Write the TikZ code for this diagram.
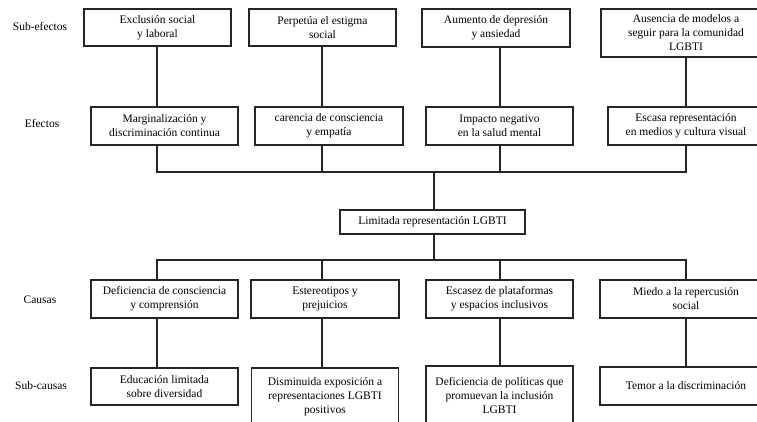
\documentclass[tikz,border=0pt]{standalone}
\usepackage{fontspec}
\setmainfont{Liberation Serif}
\begin{document}
\begin{tikzpicture}[x=1pt,y=-1pt,
  box/.style={draw=black!85,line width=1.2pt,fill=white,inner sep=0pt,align=center,
    font=\fontsize{11.5}{14}\selectfont},
  lvl/.style={inner sep=0pt,font=\fontsize{11.5}{14}\selectfont},
  conn/.style={draw=black!85,line width=1.2pt}]
\useasboundingbox (0,0) rectangle (757,421);
\clip (0,0) rectangle (757,421);
\fill[white] (0,0) rectangle (757,421);
% column line positions
\coordinate (k1) at (157,0);
\coordinate (k2) at (322,0);
\coordinate (k3) at (500,0);
\coordinate (k4) at (686,0);
\coordinate (ta) at (434,172);
\coordinate (tb) at (434,260);
% level labels
\node[lvl] (lse) at (40,27) {Sub-efectos};
\node[lvl] (lef) at (42,124) {Efectos};
\node[lvl] (lca) at (40,300) {Causas};
\node[lvl] (lsc) at (41,386) {Sub-causas};
% sub-effects
\node[box,minimum width=147,minimum height=37] (se1) at (157.5,27.5) {Exclusión social\\y laboral};
\node[box,minimum width=147,minimum height=37] (se2) at (322.5,27.5) {Perpetúa el estigma\\social};
\node[box,minimum width=148,minimum height=38] (se3) at (496,28) {Aumento de depresión\\y ansiedad};
\node[box,minimum width=170,minimum height=48] (se4) at (686,33) {Ausencia de modelos a\\seguir para la comunidad\\LGBTI};
% effects
\node[box,minimum width=147,minimum height=38] (e1) at (164.5,126) {Marginalización y\\discriminación continua};
\node[box,minimum width=148,minimum height=38] (e2) at (329,126) {carencia de consciencia\\y empatía};
\node[box,minimum width=147,minimum height=38] (e3) at (499.5,126) {Impacto negativo\\en la salud mental};
\node[box,minimum width=156,minimum height=38] (e4) at (686,126) {Escasa representación\\en medios y cultura visual};
% central
\node[box,minimum width=185,minimum height=24] (cen) at (432.5,222) {Limitada representación LGBTI};
% causes
\node[box,minimum width=147,minimum height=38] (c1) at (164.5,299) {Deficiencia de consciencia\\y comprensión};
\node[box,minimum width=148,minimum height=38] (c2) at (325,299) {Estereotipos y\\prejuicios};
\node[box,minimum width=147,minimum height=38] (c3) at (499.5,299) {Escasez de plataformas\\y espacios inclusivos};
\node[box,minimum width=172,minimum height=38] (c4) at (686,299) {Miedo a la repercusión\\social};
% sub-causes
\node[box,minimum width=147,minimum height=37] (sc1) at (164.5,386.5) {Educación limitada\\sobre diversidad};
\node[box,minimum width=147,minimum height=58] (sc2) at (325,397) {Disminuida exposición a\\representaciones LGBTI\\positivos};
\node[box,minimum width=147,minimum height=58] (sc3) at (499.5,395) {Deficiencia de políticas que\\promuevan la inclusión\\LGBTI};
\node[box,minimum width=172,minimum height=38] (sc4) at (686,386) {Temor a la discriminación};
% connectors: sub-effects to effects
\draw[conn] (se1.south -| k1) -- (e1.north -| k1);
\draw[conn] (se2.south -| k2) -- (e2.north -| k2);
\draw[conn] (se3.south -| k3) -- (e3.north -| k3);
\draw[conn] (se4.south -| k4) -- (e4.north -| k4);
% effects to central
\draw[conn] (e1.south -| k1) -- (k1 |- ta) -- (k4 |- ta) -- (e4.south -| k4);
\draw[conn] (e2.south -| k2) -- (k2 |- ta);
\draw[conn] (e3.south -| k3) -- (k3 |- ta);
\draw[conn] (ta) -- (ta |- cen.north);
% central to causes
\draw[conn] (ta |- cen.south) -- (tb);
\draw[conn] (c1.north -| k1) -- (k1 |- tb) -- (k4 |- tb) -- (c4.north -| k4);
\draw[conn] (c2.north -| k2) -- (k2 |- tb);
\draw[conn] (c3.north -| k3) -- (k3 |- tb);
% causes to sub-causes
\draw[conn] (c1.south -| k1) -- (sc1.north -| k1);
\draw[conn] (c2.south -| k2) -- (sc2.north -| k2);
\draw[conn] (c3.south -| k3) -- (sc3.north -| k3);
\draw[conn] (c4.south -| k4) -- (sc4.north -| k4);
\end{tikzpicture}
\end{document}
